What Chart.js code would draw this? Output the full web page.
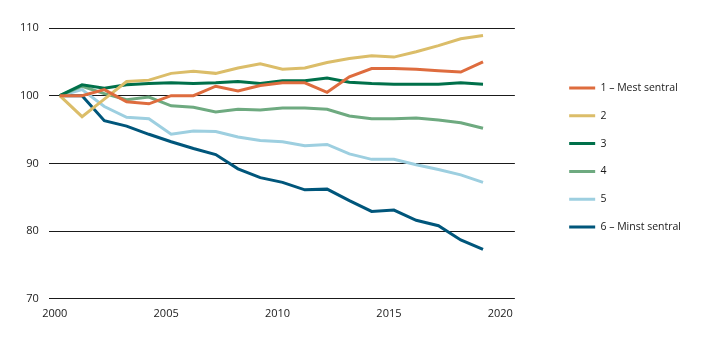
<!DOCTYPE html>
<html>
<head>
<meta charset="utf-8">
<script src="https://cdn.jsdelivr.net/npm/chart.js@4"></script>
<style>
  html, body { margin: 0; padding: 0; background: #fff; }
</style>
</head>
<body>
<canvas id="indexChart" width="719" height="341"></canvas>
<script>
// Data (index, 2000 = 100)
const years = [2000, 2001, 2002, 2003, 2004, 2005, 2006, 2007, 2008, 2009,
  2010, 2011, 2012, 2013, 2014, 2015, 2016, 2017, 2018, 2019];
const xTickLabels = [2000, 2005, 2010, 2015, 2020];
const yTickLabels = [70, 80, 90, 100, 110];

const seriesNames = ["1 – Mest sentral", "2", "3", "4", "5", "6 – Minst sentral"];
const seriesColors = ["#de6c3e", "#dbbd69", "#00704a", "#6eaa80", "#9dcfe0", "#00567b"];

const group1 = [100, 100, 100.9, 99.1, 98.8, 100.0, 100.0, 101.4, 100.7, 101.5,
  101.9, 101.9, 100.5, 102.8, 104.0, 104.0, 103.9, 103.7, 103.5, 105.0];
const group2 = [100, 96.9, 99.5, 102.1, 102.3, 103.3, 103.6, 103.3, 104.1, 104.7,
  103.9, 104.1, 104.9, 105.5, 105.9, 105.7, 106.5, 107.4, 108.4, 108.9];
const group3 = [100, 101.6, 101.1, 101.6, 101.8, 101.9, 101.8, 101.9, 102.1, 101.8,
  102.2, 102.2, 102.6, 102.0, 101.8, 101.7, 101.7, 101.7, 101.9, 101.7];
const group4 = [100, 101.4, 100.3, 99.4, 99.8, 98.5, 98.3, 97.6, 98.0, 97.9,
  98.2, 98.2, 98.0, 97.0, 96.6, 96.6, 96.7, 96.4, 96.0, 95.2];
const group5 = [100, 100.9, 98.4, 96.8, 96.6, 94.3, 94.8, 94.7, 93.9, 93.4,
  93.2, 92.6, 92.8, 91.4, 90.6, 90.6, 89.8, 89.1, 88.3, 87.2];
const group6 = [100, 100.0, 96.3, 95.5, 94.3, 93.2, 92.2, 91.3, 89.2, 87.9,
  87.2, 86.1, 86.2, 84.5, 82.9, 83.1, 81.6, 80.8, 78.7, 77.3];

const allSeries = [group1, group2, group3, group4, group5, group6];

// Build datasets from the arrays
const datasets = allSeries.map((values, i) => ({
  label: seriesNames[i],
  data: values.map((v, j) => ({ x: years[j], y: v })),
  borderColor: seriesColors[i],
  backgroundColor: seriesColors[i],
  borderWidth: 3,
  pointRadius: 0,
  tension: 0,
}));

// Push the legend away from the plot area and up a little
const legendShift = {
  id: "legendShift",
  afterLayout(chart) {
    const lg = chart.legend;
    lg.left = chart.chartArea.right + 37;
    lg.right = chart.width;
    lg.width = lg.right - lg.left;
    lg.top -= 20.5;
    lg.bottom -= 20.5;
  },
};

Chart.defaults.font.family = "'Open Sans', sans-serif";
Chart.defaults.font.size = 11;
Chart.defaults.color = "#1a1a1a";

const ctx = document.getElementById("indexChart").getContext("2d");
const chart = new Chart(ctx, {
  type: "line",
  data: { datasets: datasets },
  options: {
    responsive: false,
    animation: false,
    layout: { padding: { left: 10, right: 65, top: 28, bottom: 13 } },
    scales: {
      x: {
        type: "linear",
        min: 1999.51,
        max: 2020.43,
        grid: { display: false, drawTicks: false },
        border: { display: false },
        afterBuildTicks: (scale) => {
          scale.ticks = xTickLabels.map((v) => ({ value: v }));
        },
        ticks: {
          labelOffset: -5,
          padding: 8,
          maxRotation: 0,
          callback: (v) => String(v),
        },
      },
      y: {
        min: 70,
        max: 110,
        grid: { color: "#1a1a1a", lineWidth: 1, drawTicks: false },
        border: { display: false },
        afterBuildTicks: (scale) => {
          scale.ticks = yTickLabels.map((v) => ({ value: v }));
        },
        ticks: { padding: 10 },
      },
    },
    plugins: {
      tooltip: { enabled: false },
      legend: {
        position: "right",
        align: "center",
        labels: {
          usePointStyle: true,
          pointStyle: "line",
          pointStyleWidth: 26,
          padding: 17.3,
          font: { size: 10.5 },
          color: "#1a1a1a",
        },
      },
    },
  },
  plugins: [legendShift],
});
</script>
</body>
</html>
